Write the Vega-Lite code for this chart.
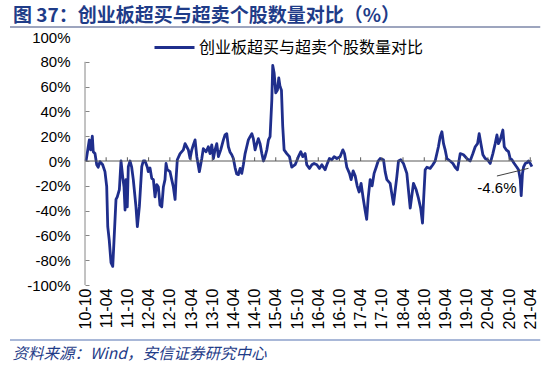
{
  "$schema": "https://vega.github.io/schema/vega-lite/v6.json",
  "width": 447,
  "height": 248,
  "autosize": {"type": "none"},
  "padding": {"left": 85, "top": 37, "right": 18, "bottom": 82},
  "background": "white",
  "config": {
    "view": {"stroke": null},
    "font": "Liberation Sans",
    "axis": {"labelOverlap": false, "labelFlush": false}
  },
  "title": {
    "text": "图 37：创业板超买与超卖个股数量对比（%）",
    "anchor": "start",
    "frame": "group",
    "dx": -72,
    "dy": 2,
    "offset": 2,
    "font": "Noto Sans CJK SC",
    "fontSize": 19,
    "fontWeight": "bold",
    "color": "#1F3C88"
  },
  "datasets": {
    "main": [
      {"date": "2010-10-10", "value": 0}, {"date": "2010-11-07", "value": 17}, {"date": "2010-11-19", "value": 9},
      {"date": "2010-12-03", "value": 20}, {"date": "2010-12-11", "value": 7.5}, {"date": "2010-12-26", "value": 6},
      {"date": "2011-01-10", "value": -3}, {"date": "2011-01-23", "value": -5}, {"date": "2011-02-07", "value": -0.5},
      {"date": "2011-03-02", "value": -3}, {"date": "2011-03-22", "value": -8.6}, {"date": "2011-04-06", "value": -20.7},
      {"date": "2011-04-15", "value": -53}, {"date": "2011-04-28", "value": -64}, {"date": "2011-05-13", "value": -82},
      {"date": "2011-05-28", "value": -85}, {"date": "2011-06-08", "value": -64}, {"date": "2011-06-25", "value": -31},
      {"date": "2011-07-06", "value": -29}, {"date": "2011-07-24", "value": -23}, {"date": "2011-08-07", "value": 0},
      {"date": "2011-08-22", "value": -13}, {"date": "2011-09-02", "value": -21}, {"date": "2011-09-11", "value": -39.5},
      {"date": "2011-09-19", "value": -15}, {"date": "2011-09-30", "value": -37}, {"date": "2011-10-09", "value": -4.5},
      {"date": "2011-10-24", "value": 0}, {"date": "2011-11-07", "value": -5}, {"date": "2011-11-21", "value": -15},
      {"date": "2011-12-14", "value": -37}, {"date": "2011-12-26", "value": -53}, {"date": "2012-01-12", "value": -37},
      {"date": "2012-02-02", "value": -4.5}, {"date": "2012-02-15", "value": 0}, {"date": "2012-03-01", "value": 0},
      {"date": "2012-03-21", "value": -5}, {"date": "2012-03-29", "value": -8.6}, {"date": "2012-04-13", "value": -5.6},
      {"date": "2012-04-28", "value": -14}, {"date": "2012-05-12", "value": -15}, {"date": "2012-05-26", "value": -29},
      {"date": "2012-06-10", "value": -19}, {"date": "2012-06-24", "value": -21}, {"date": "2012-07-08", "value": -35.5},
      {"date": "2012-07-23", "value": -37}, {"date": "2012-08-06", "value": -21}, {"date": "2012-08-20", "value": -15},
      {"date": "2012-08-29", "value": -2}, {"date": "2012-09-09", "value": -7}, {"date": "2012-10-02", "value": -8.6},
      {"date": "2012-10-17", "value": -15}, {"date": "2012-10-31", "value": -21}, {"date": "2012-11-15", "value": -31},
      {"date": "2012-11-23", "value": -15}, {"date": "2012-12-04", "value": 1}, {"date": "2012-12-28", "value": 6},
      {"date": "2013-01-25", "value": 9}, {"date": "2013-02-09", "value": 14}, {"date": "2013-02-23", "value": 11.5},
      {"date": "2013-03-09", "value": 9}, {"date": "2013-03-24", "value": 2}, {"date": "2013-04-08", "value": 9},
      {"date": "2013-04-21", "value": 13}, {"date": "2013-05-06", "value": 17}, {"date": "2013-05-21", "value": 3.5},
      {"date": "2013-06-12", "value": -8.6}, {"date": "2013-07-03", "value": 2}, {"date": "2013-07-16", "value": 10},
      {"date": "2013-08-09", "value": 7.5}, {"date": "2013-08-28", "value": 11.5}, {"date": "2013-09-12", "value": 6},
      {"date": "2013-09-27", "value": 13}, {"date": "2013-10-11", "value": 2}, {"date": "2013-10-25", "value": 9},
      {"date": "2013-11-09", "value": 14}, {"date": "2013-11-23", "value": 3.5}, {"date": "2013-12-13", "value": 9},
      {"date": "2014-01-05", "value": 17}, {"date": "2014-01-19", "value": 21}, {"date": "2014-02-03", "value": 22},
      {"date": "2014-02-17", "value": 11.5}, {"date": "2014-03-04", "value": 7}, {"date": "2014-03-18", "value": 5},
      {"date": "2014-04-01", "value": 2}, {"date": "2014-04-16", "value": -5.5}, {"date": "2014-04-30", "value": -10.5},
      {"date": "2014-05-14", "value": -11}, {"date": "2014-05-29", "value": -6}, {"date": "2014-06-12", "value": -10},
      {"date": "2014-06-26", "value": -3}, {"date": "2014-07-11", "value": 6}, {"date": "2014-07-25", "value": 11.5},
      {"date": "2014-08-08", "value": 17}, {"date": "2014-08-23", "value": 19.6}, {"date": "2014-09-07", "value": 22},
      {"date": "2014-09-20", "value": 18}, {"date": "2014-10-05", "value": 9}, {"date": "2014-10-20", "value": 14},
      {"date": "2014-11-02", "value": 18}, {"date": "2014-11-17", "value": 14}, {"date": "2014-12-02", "value": 6},
      {"date": "2014-12-16", "value": 0}, {"date": "2014-12-30", "value": 3.5}, {"date": "2015-01-14", "value": 9},
      {"date": "2015-01-28", "value": 17}, {"date": "2015-02-11", "value": 19.6}, {"date": "2015-02-26", "value": 49},
      {"date": "2015-03-06", "value": 77}, {"date": "2015-03-18", "value": 71}, {"date": "2015-04-01", "value": 55},
      {"date": "2015-04-15", "value": 57}, {"date": "2015-04-27", "value": 67}, {"date": "2015-05-08", "value": 60},
      {"date": "2015-05-20", "value": 57}, {"date": "2015-05-31", "value": 28}, {"date": "2015-06-12", "value": 9},
      {"date": "2015-07-05", "value": 6}, {"date": "2015-07-28", "value": 3.5}, {"date": "2015-08-17", "value": -5},
      {"date": "2015-09-15", "value": -3}, {"date": "2015-10-13", "value": 3.5}, {"date": "2015-11-03", "value": 7.5},
      {"date": "2015-11-20", "value": 3.5}, {"date": "2015-12-10", "value": 6}, {"date": "2015-12-24", "value": -3},
      {"date": "2016-01-16", "value": -6}, {"date": "2016-02-06", "value": -3}, {"date": "2016-02-25", "value": -2},
      {"date": "2016-03-20", "value": -3}, {"date": "2016-04-11", "value": -6}, {"date": "2016-05-02", "value": -3},
      {"date": "2016-05-30", "value": -7}, {"date": "2016-06-14", "value": -3}, {"date": "2016-07-06", "value": 2},
      {"date": "2016-07-27", "value": 1}, {"date": "2016-08-16", "value": 3.5}, {"date": "2016-09-08", "value": 2},
      {"date": "2016-10-06", "value": 3.5}, {"date": "2016-10-30", "value": 9}, {"date": "2016-11-13", "value": 6},
      {"date": "2016-12-03", "value": -5}, {"date": "2016-12-26", "value": -10}, {"date": "2017-01-09", "value": -15},
      {"date": "2017-01-27", "value": -8}, {"date": "2017-02-13", "value": -12}, {"date": "2017-03-02", "value": -20},
      {"date": "2017-03-19", "value": -25}, {"date": "2017-04-05", "value": -18}, {"date": "2017-04-23", "value": -30},
      {"date": "2017-05-10", "value": -40}, {"date": "2017-05-23", "value": -47}, {"date": "2017-06-05", "value": -30},
      {"date": "2017-06-22", "value": -15}, {"date": "2017-07-09", "value": -20}, {"date": "2017-07-26", "value": -10},
      {"date": "2017-08-13", "value": -5}, {"date": "2017-08-30", "value": 0}, {"date": "2017-09-16", "value": 2},
      {"date": "2017-10-15", "value": 1}, {"date": "2017-10-29", "value": -8.6}, {"date": "2017-11-13", "value": -15},
      {"date": "2017-12-11", "value": -18}, {"date": "2018-01-09", "value": -35}, {"date": "2018-02-07", "value": -12.6},
      {"date": "2018-02-21", "value": 0}, {"date": "2018-03-13", "value": 1}, {"date": "2018-04-05", "value": -2},
      {"date": "2018-05-04", "value": -10}, {"date": "2018-06-02", "value": -38}, {"date": "2018-06-30", "value": -18},
      {"date": "2018-07-23", "value": -23}, {"date": "2018-08-12", "value": -30}, {"date": "2018-08-31", "value": -38},
      {"date": "2018-09-16", "value": -50}, {"date": "2018-09-26", "value": -30}, {"date": "2018-10-09", "value": -7},
      {"date": "2018-10-24", "value": -5}, {"date": "2018-11-21", "value": -6}, {"date": "2018-12-14", "value": -3},
      {"date": "2019-01-03", "value": 0}, {"date": "2019-01-31", "value": 11.5}, {"date": "2019-02-15", "value": 19.6},
      {"date": "2019-03-02", "value": 23.6}, {"date": "2019-03-16", "value": 14}, {"date": "2019-03-30", "value": 9},
      {"date": "2019-04-14", "value": 2}, {"date": "2019-05-12", "value": 0}, {"date": "2019-06-05", "value": -2},
      {"date": "2019-06-24", "value": -5}, {"date": "2019-07-14", "value": -7}, {"date": "2019-08-07", "value": 6},
      {"date": "2019-09-04", "value": 5}, {"date": "2019-10-03", "value": 2}, {"date": "2019-10-31", "value": 0},
      {"date": "2019-11-24", "value": 6}, {"date": "2019-12-14", "value": 11.5}, {"date": "2020-01-03", "value": 14},
      {"date": "2020-01-17", "value": 22}, {"date": "2020-02-01", "value": 14}, {"date": "2020-02-18", "value": 5},
      {"date": "2020-03-09", "value": 2}, {"date": "2020-03-29", "value": 1}, {"date": "2020-04-21", "value": -2},
      {"date": "2020-05-14", "value": 6}, {"date": "2020-06-03", "value": 14}, {"date": "2020-06-18", "value": 21},
      {"date": "2020-07-01", "value": 14}, {"date": "2020-07-16", "value": 17}, {"date": "2020-08-08", "value": 25},
      {"date": "2020-08-20", "value": 11.5}, {"date": "2020-09-06", "value": 9}, {"date": "2020-09-26", "value": 7.5},
      {"date": "2020-10-10", "value": 2}, {"date": "2020-10-25", "value": 1}, {"date": "2020-11-14", "value": -2},
      {"date": "2020-12-07", "value": -5}, {"date": "2020-12-21", "value": -7}, {"date": "2021-01-05", "value": -15},
      {"date": "2021-01-13", "value": -28}, {"date": "2021-01-24", "value": -10}, {"date": "2021-02-02", "value": -5},
      {"date": "2021-02-17", "value": -2}, {"date": "2021-03-03", "value": -1.4}, {"date": "2021-03-17", "value": 0},
      {"date": "2021-04-01", "value": -2}, {"date": "2021-04-15", "value": -4.6}
    ],
    "ticks": [
      {"date": "2011-04-01"}, {"date": "2011-10-01"}, {"date": "2012-04-01"}, {"date": "2012-10-01"},
      {"date": "2013-04-01"}, {"date": "2013-10-01"}, {"date": "2014-04-01"}, {"date": "2014-10-01"},
      {"date": "2015-04-01"}, {"date": "2015-10-01"}, {"date": "2016-04-01"}, {"date": "2016-10-01"},
      {"date": "2017-04-01"}, {"date": "2017-10-01"}, {"date": "2018-04-01"}, {"date": "2018-10-01"},
      {"date": "2019-04-01"}, {"date": "2019-10-01"}, {"date": "2020-04-01"}, {"date": "2020-10-01"},
      {"date": "2021-04-01"}
    ],
    "one": [{}]
  },
  "layer": [
    {
      "data": {"name": "main"},
      "mark": {"type": "line", "strokeWidth": 2.8, "strokeJoin": "round"},
      "encoding": {
        "x": {
          "field": "date", "type": "temporal",
          "scale": {"domain": [{"year": 2010, "month": 10, "date": 1}, {"year": 2021, "month": 4, "date": 16}]},
          "axis": {
            "values": [
              {"year": 2010, "month": 10, "date": 1}, {"year": 2011, "month": 4, "date": 1}, {"year": 2011, "month": 10, "date": 1},
              {"year": 2012, "month": 4, "date": 1}, {"year": 2012, "month": 10, "date": 1}, {"year": 2013, "month": 4, "date": 1},
              {"year": 2013, "month": 10, "date": 1}, {"year": 2014, "month": 4, "date": 1}, {"year": 2014, "month": 10, "date": 1},
              {"year": 2015, "month": 4, "date": 1}, {"year": 2015, "month": 10, "date": 1}, {"year": 2016, "month": 4, "date": 1},
              {"year": 2016, "month": 10, "date": 1}, {"year": 2017, "month": 4, "date": 1}, {"year": 2017, "month": 10, "date": 1},
              {"year": 2018, "month": 4, "date": 1}, {"year": 2018, "month": 10, "date": 1}, {"year": 2019, "month": 4, "date": 1},
              {"year": 2019, "month": 10, "date": 1}, {"year": 2020, "month": 4, "date": 1}, {"year": 2020, "month": 10, "date": 1},
              {"year": 2021, "month": 4, "date": 1}
            ],
            "tickCount": 40,
            "format": "%y-%m",
            "labelAngle": 270,
            "labelFontSize": 16,
            "labelColor": "#000000",
            "labelPadding": 3,
            "labelOverlap": false,
            "labelFlush": false,
            "domain": false,
            "ticks": false,
            "grid": false,
            "title": "资料来源：Wind，安信证券研究中心",
            "titleFont": "Noto Sans CJK SC",
            "titleFontSize": 15.5,
            "titleFontStyle": "italic",
            "titleFontWeight": "normal",
            "titleColor": "#1F3C88",
            "titleX": -73,
            "titleY": 68,
            "titleAlign": "left",
            "titleBaseline": "middle"
          }
        },
        "y": {
          "field": "value", "type": "quantitative",
          "scale": {"domain": [-100, 100]},
          "axis": {
            "values": [-100, -80, -60, -40, -20, 0, 20, 40, 60, 80, 100],
            "tickCount": 20,
            "labelExpr": "datum.value + '%'",
            "labelFontSize": 15,
            "labelColor": "#000000",
            "labelPadding": 19,
            "labelOverlap": false,
            "domain": false,
            "ticks": true,
            "tickSize": -4,
            "tickColor": "#868686",
            "tickOpacity": {"condition": {"test": "datum.value == 100", "value": 0}, "value": 1},
            "grid": false,
            "title": null
          }
        },
        "color": {
          "datum": "创业板超买与超卖个股数量对比",
          "type": "nominal",
          "scale": {"range": ["#1F2E8C"]},
          "legend": {
            "title": null,
            "orient": "none",
            "legendX": 68,
            "legendY": -11,
            "padding": 0,
            "symbolType": "stroke",
            "symbolSize": 1600,
            "symbolStrokeWidth": 3,
            "labelFont": "Noto Sans CJK SC",
            "labelFontSize": 16,
            "labelLimit": 0,
            "labelColor": "#000000",
            "labelOffset": 3
          }
        }
      }
    },
    {
      "data": {"name": "one"},
      "mark": {"type": "rule", "color": "#595959", "strokeWidth": 1},
      "encoding": {"y": {"datum": 0}}
    },
    {
      "data": {"name": "ticks"},
      "mark": {"type": "rule", "color": "#595959", "strokeWidth": 1},
      "encoding": {
        "x": {"field": "date", "type": "temporal"},
        "y": {"datum": 0},
        "y2": {"datum": 3}
      }
    },
    {
      "data": {"name": "one"},
      "mark": {"type": "rule", "color": "#868686", "strokeWidth": 1},
      "encoding": {
        "x": {"datum": {"year": 2010, "month": 10, "date": 1}, "type": "temporal"},
        "y": {"datum": -100},
        "y2": {"datum": 80}
      }
    },
    {
      "data": {"name": "one"},
      "mark": {"type": "rule", "color": "#404040", "strokeWidth": 1},
      "encoding": {
        "x": {"datum": {"year": 2021, "month": 3, "date": 17}, "type": "temporal"},
        "y": {"datum": -5.9},
        "x2": {"datum": {"year": 2020, "month": 6, "date": 18}},
        "y2": {"datum": -12.1}
      }
    },
    {
      "data": {"name": "main"},
      "transform": [
        {"window": [{"op": "row_number", "as": "rn"}], "sort": [{"field": "date", "order": "descending"}]},
        {"filter": "datum.rn == 1"},
        {"calculate": "datum.value + '%'", "as": "label"}
      ],
      "mark": {"type": "text", "fontSize": 15, "dx": -35, "dy": 21, "align": "center", "baseline": "middle", "color": "#000000"},
      "encoding": {
        "x": {"field": "date", "type": "temporal"},
        "y": {"field": "value", "type": "quantitative"},
        "text": {"field": "label"}
      }
    },
    {
      "data": {"name": "one"},
      "mark": {"type": "rule", "color": "#9DA5BE", "strokeWidth": 2, "clip": false},
      "encoding": {
        "x": {"datum": {"year": 2008, "month": 12, "date": 24}, "type": "temporal"},
        "x2": {"datum": {"year": 2021, "month": 6, "date": 26}},
        "y": {"datum": 108}
      }
    },
    {
      "data": {"name": "one"},
      "mark": {"type": "rule", "color": "#A9B8D8", "strokeWidth": 2, "clip": false},
      "encoding": {
        "x": {"datum": {"year": 2008, "month": 12, "date": 24}, "type": "temporal"},
        "x2": {"datum": {"year": 2021, "month": 6, "date": 26}},
        "y": {"datum": -144.4}
      }
    }
  ]
}
